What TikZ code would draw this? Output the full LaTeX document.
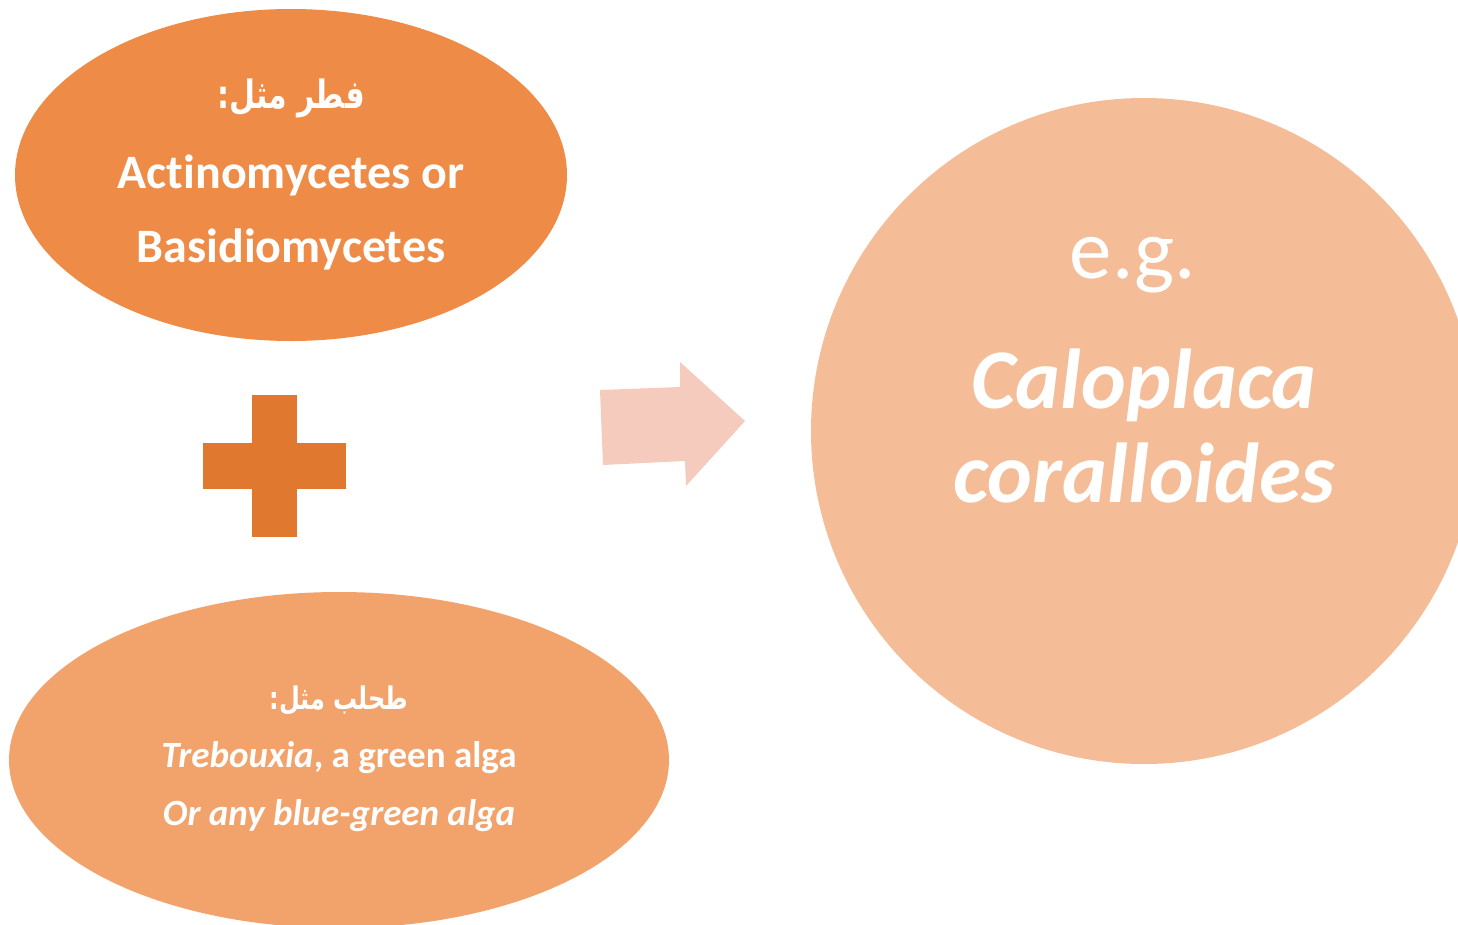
\documentclass[tikz,border=0pt]{standalone}
\usepackage{fontspec}
\usepackage{graphicx}
\setmainfont{Carlito}[Ligatures=NoCommon]
\newfontfamily\arabicfont[Script=Arabic]{DejaVu Sans}
\TeXXeTstate=1
\usetikzlibrary{shapes.geometric}
\definecolor{fungus}{HTML}{EE8B47}
\definecolor{plusc}{HTML}{E0782F}
\definecolor{alga}{HTML}{F2A36C}
\definecolor{arrowc}{HTML}{F5CBBE}
\definecolor{lichen}{HTML}{F4BC97}
\tikzset{
  txt/.style={text=white, align=center, inner sep=0pt},
  btxt/.style={txt, anchor=base},
}
\begin{document}
\begin{tikzpicture}[x=1pt,y=-1pt]
\useasboundingbox (0,0) rectangle (1458,924);
\begin{scope}
\clip (0,0) rectangle (1458,924);
% fungus ellipse
\fill[fungus] (291,175) ellipse [x radius=276, y radius=166];
% alga ellipse
\fill[alga] (339,760) ellipse [x radius=330, y radius=168];
% lichen circle
\fill[lichen] (1144,431) circle [radius=333];
\end{scope}
% plus
\fill[plusc] (252,395) rectangle (297,537);
\fill[plusc] (203,443) rectangle (346,489);
% arrow
\fill[arrowc] (600,390) -- (680,387) -- (680,362) -- (745,421) -- (686,486) -- (685,461) -- (603,465) -- cycle;
% texts
\node[txt, font=\fontsize{30}{36}\selectfont\bfseries\arabicfont] (f1) at (291,98) {\scalebox{1}[1.3]{\beginR فطر مثل:\endR}};
\node[btxt, font=\fontsize{48}{56}\selectfont\bfseries] (f2) at (291,188) {Actinomycetes or};
\node[btxt, font=\fontsize{48}{56}\selectfont\bfseries] (f3) at (291,262) {Basidiomycetes};
\node[txt, font=\fontsize{24}{30}\selectfont\bfseries\arabicfont] (a1) at (339,700) {\scalebox{1}[1.3]{\beginR طحلب مثل:\endR}};
\node[btxt, font=\fontsize{37}{44}\selectfont\bfseries] (a2) at (339,767) {\textit{Trebouxia}, a green alga};
\node[btxt, font=\fontsize{37}{44}\selectfont\bfseries\itshape] (a3) at (339,825) {Or any blue-green alga};
\node[btxt, font=\fontsize{85}{95}\selectfont] (l1) at (1133,278) {e.g.};
\node[btxt, font=\fontsize{85}{95}\selectfont\bfseries\itshape] (l2) at (1144,408) {Caloplaca};
\node[btxt, font=\fontsize{85}{95}\selectfont\bfseries\itshape] (l3) at (1144,502) {coralloides};
\end{tikzpicture}
\end{document}
